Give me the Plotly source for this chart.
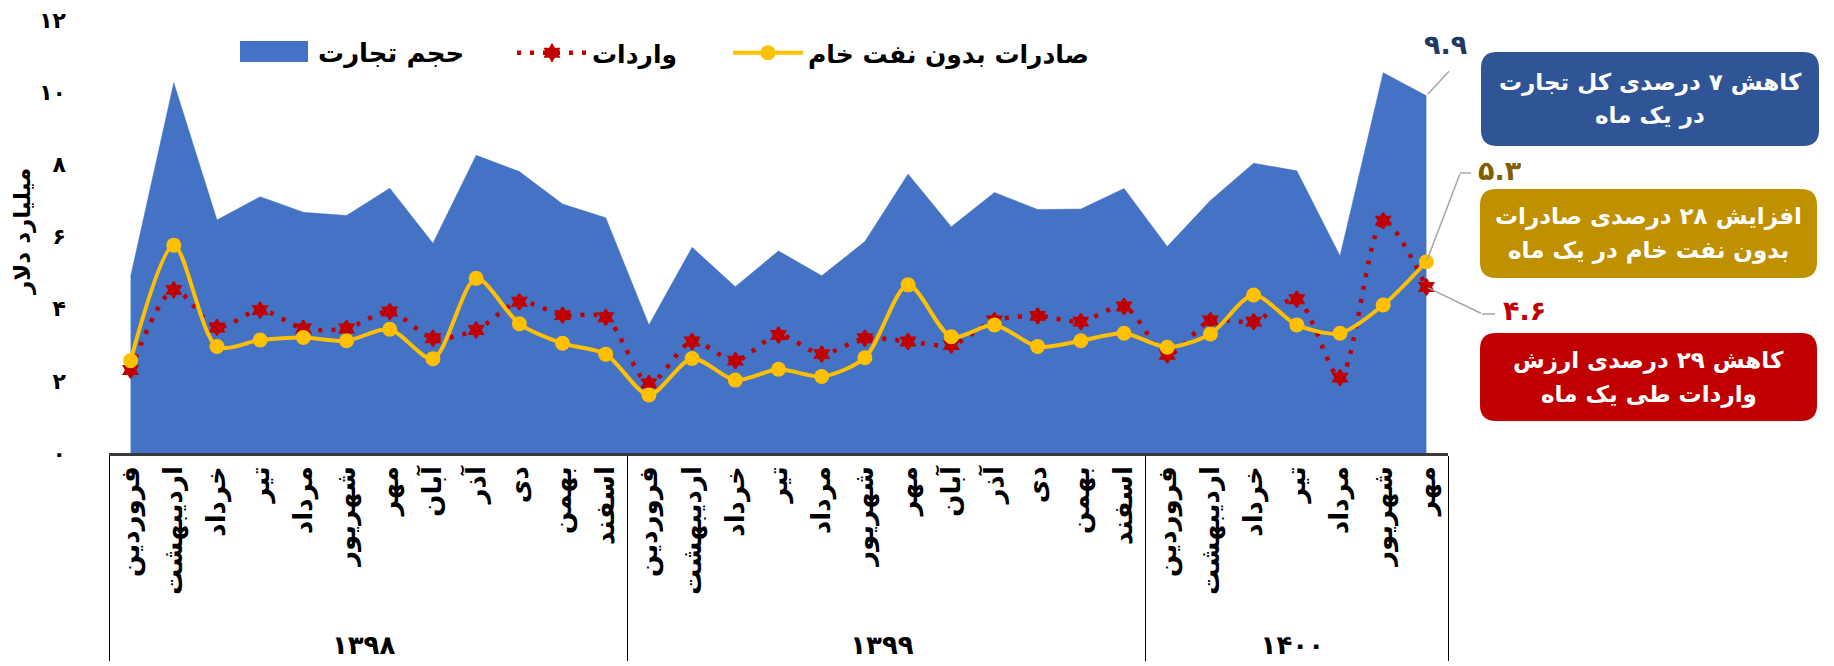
import plotly.graph_objects as go

# ---------------- data ----------------
years = ["۱۳۹۸"] * 12 + ["۱۳۹۹"] * 12 + ["۱۴۰۰"] * 7
month_names = ["فروردین", "اردیبهشت", "خرداد", "تیر", "مرداد", "شهریور",
               "مهر", "آبان", "آذر", "دی", "بهمن", "اسفند"]
months = month_names + month_names + month_names[:7]

trade_volume = [4.89, 10.26, 6.46, 7.10, 6.67, 6.58, 7.34, 5.81, 8.25, 7.80, 6.90, 6.52,
                3.55, 5.70, 4.61, 5.60, 4.91, 5.86, 7.73, 6.27, 7.22, 6.75, 6.76, 7.33,
                5.72, 7.00, 8.03, 7.82, 5.46, 10.54, 9.9]
imports = [2.30, 4.52, 3.48, 3.96, 3.45, 3.45, 3.92, 3.18, 3.41, 4.19, 3.82, 3.76,
           1.93, 3.09, 2.56, 3.27, 2.74, 3.18, 3.09, 2.99, 3.67, 3.80, 3.64, 4.06,
           2.72, 3.67, 3.64, 4.26, 2.09, 6.44, 4.6]
exports = [2.56, 5.76, 2.95, 3.13, 3.20, 3.11, 3.43, 2.61, 4.84, 3.58, 3.04, 2.74,
           1.61, 2.62, 2.02, 2.32, 2.12, 2.64, 4.66, 3.22, 3.55, 2.95, 3.11, 3.32,
           2.93, 3.30, 4.38, 3.55, 3.32, 4.10, 5.3]

y_ticks = [0, 2, 4, 6, 8, 10, 12]
y_tick_text = ["۰", "۲", "۴", "۶", "۸", "۱۰", "۱۲"]

name_trade = "حجم تجارت"
name_imports = "واردات"
name_exports = "صادرات بدون نفت خام"
y_title = "میلیارد دلار"

label_trade = "۹.۹"
label_exports = "۵.۳"
label_imports = "۴.۶"
box_lines = [("کاهش ۷ درصدی کل تجارت", "در یک ماه"),
             ("افزایش ۲۸ درصدی صادرات", "بدون نفت خام در یک ماه"),
             ("کاهش ۲۹ درصدی ارزش", "واردات طی یک ماه")]
box_colors = ["#2F5597", "#BF9000", "#C00000"]

# ---------------- layout geometry (pixels) ----------------
W, H = 1834, 666
L, R, T, B = 109, 386, 20, 213
PW, PH = W - L - R, H - T - B
FONT = "DejaVu Sans"


def px(x):
    return (x - L) / PW


def py(y):
    return (H - B - y) / PH


pad = "\u00a0" * 1
month_labels = [pad + m for m in months]
x_multi = [years, month_labels]
last = len(months) - 1

fig = go.Figure()
fig.add_trace(go.Scatter(
    x=x_multi, y=trade_volume, name=name_trade, mode="lines",
    fill="tozeroy", fillcolor="#4472C4", line=dict(color="#4472C4", width=0.5),
    showlegend=False))
fig.add_trace(go.Scatter(
    x=x_multi, y=imports, name=name_imports, mode="lines+markers",
    line=dict(color="#C00000", width=4.5, dash="4px,9px", shape="spline", smoothing=0.8),
    marker=dict(symbol="hexagram", size=12, color="#C00000",
                line=dict(color="#C00000", width=2)),
    legend="legend2", showlegend=True))
fig.add_trace(go.Scatter(
    x=x_multi, y=exports, name=name_exports, mode="lines+markers",
    line=dict(color="#FFC000", width=4, shape="spline", smoothing=0.8),
    marker=dict(symbol="circle", size=15, color="#FFC000"),
    legend="legend3", showlegend=True))

legend_font = dict(family=FONT, size=25, color="black", weight="bold")
leg_common = dict(orientation="h", yanchor="middle", xanchor="left",
                  font=legend_font, bgcolor="rgba(0,0,0,0)", itemwidth=70)

shapes = []
annotations = []

# legend entry for the area series (filled swatch + label)
shapes.append(dict(type="rect", xref="paper", yref="paper", x0=px(240), x1=px(308),
                   y0=py(62), y1=py(41), fillcolor="#4472C4", line=dict(width=0)))
annotations.append(dict(x=px(316), y=py(53), xref="paper", yref="paper", text=name_trade,
                        xanchor="left", yanchor="middle", showarrow=False,
                        font=dict(family=FONT, size=26, color="black", weight="bold")))

# rounded boxes on the right
boxes = [(1481, 52, 1819, 146), (1480, 189, 1817, 278), (1480, 333, 1817, 421)]
rad = 16
for (x0, y0, x1, y1), col, (ln1, ln2) in zip(boxes, box_colors, box_lines):
    rx, ry = rad / PW, rad / PH
    X0, X1, Y0, Y1 = px(x0), px(x1), py(y1), py(y0)
    path = (f"M {X0+rx},{Y0} L {X1-rx},{Y0} Q {X1},{Y0} {X1},{Y0+ry} "
            f"L {X1},{Y1-ry} Q {X1},{Y1} {X1-rx},{Y1} L {X0+rx},{Y1} "
            f"Q {X0},{Y1} {X0},{Y1-ry} L {X0},{Y0+ry} Q {X0},{Y0} {X0+rx},{Y0} Z")
    shapes.append(dict(type="path", path=path, xref="paper", yref="paper",
                       fillcolor=col, line=dict(width=0), layer="above"))
    cx, cy = (x0 + x1) / 2, (y0 + y1) / 2
    for txt, dy in ((ln1, -17), (ln2, 17)):
        annotations.append(dict(x=px(cx), y=py(cy + dy), xref="paper", yref="paper",
                                xanchor="center", yanchor="middle",
                                text=txt, showarrow=False,
                                font=dict(family=FONT, size=23, color="white", weight="bold")))

# value labels
val_common = dict(xref="paper", yref="paper", xanchor="center", yanchor="middle", showarrow=False)
annotations.append(dict(val_common, x=px(1445), y=py(45), text=label_trade,
                        font=dict(family=FONT, size=27, color="#203864", weight="bold")))
annotations.append(dict(val_common, x=px(1500), y=py(170), text=label_exports,
                        font=dict(family=FONT, size=27, color="#7F6000", weight="bold")))
annotations.append(dict(val_common, x=px(1524), y=py(310), text=label_imports,
                        font=dict(family=FONT, size=27, color="#C00000", weight="bold")))

# leader lines
lead = dict(showarrow=True, arrowhead=0, arrowwidth=1.5, arrowcolor="#A6A6A6", text="",
            xref="x", yref="y", axref="pixel", ayref="pixel", standoff=2)
annotations.append(dict(lead, x=last, y=trade_volume[-1], ax=24, ay=-26))
annotations.append(dict(lead, x=last, y=exports[-1], ax=34, ay=-89))
annotations.append(dict(lead, x=last, y=imports[-1], ax=56, ay=27))
shapes.append(dict(type="line", xref="paper", yref="paper", x0=px(1460), x1=px(1471),
                   y0=py(173), y1=py(173), line=dict(color="#A6A6A6", width=1.5)))
shapes.append(dict(type="line", xref="paper", yref="paper", x0=px(1482), x1=px(1495),
                   y0=py(314), y1=py(314), line=dict(color="#A6A6A6", width=1.5)))

# y-axis title
annotations.append(dict(x=px(22), y=py(232), xref="paper", yref="paper", text=y_title,
                        xanchor="center", yanchor="middle",
                        textangle=-90, showarrow=False,
                        font=dict(family=FONT, size=23, color="black", weight="bold")))

fig.update_layout(
    width=W, height=H,
    margin=dict(l=L, r=R, t=T, b=B, autoexpand=False),
    paper_bgcolor="white", plot_bgcolor="white",
    font=dict(family=FONT, color="black"),
    showlegend=True,
    legend2=dict(leg_common, x=px(512), y=py(53)),
    legend3=dict(leg_common, x=px(728), y=py(53)),
    shapes=shapes, annotations=annotations,
    xaxis=dict(type="multicategory", range=[-0.5, last + 0.5], tickangle=-90,
               showline=True, linecolor="#3A3A3A",
               linewidth=2.5, showgrid=False, zeroline=False, ticks="",
               showdividers=True, dividercolor="black", dividerwidth=1,
               tickfont=dict(family=FONT, size=26, color="black", weight="bold"),
               automargin=False),
    yaxis=dict(range=[0, 12], tickvals=y_ticks, ticktext=y_tick_text, showgrid=False,
               zeroline=False, showline=False, ticks="", ticklabelstandoff=42,
               tickfont=dict(family=FONT, size=22, color="black", weight="bold"),
               automargin=False),
)

fig.write_html("out.html", config={"displayModeBar": False},
               post_script="document.body.style.margin='0px';")
